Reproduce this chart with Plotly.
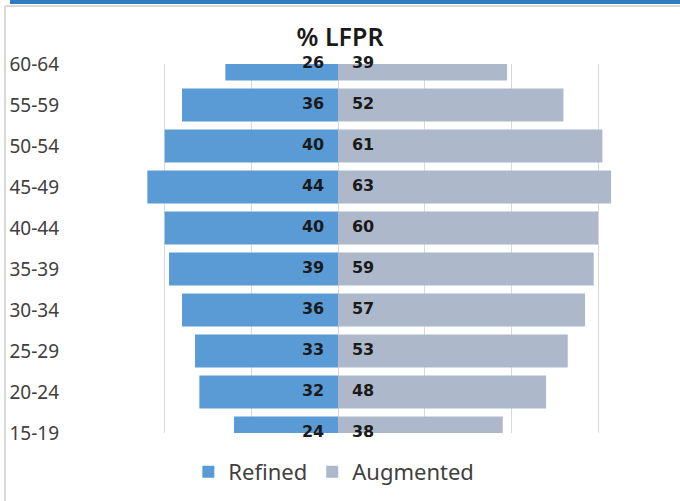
import plotly.graph_objects as go

# data (bottom to top)
age_groups = ['15-19', '20-24', '25-29', '30-34', '35-39',
              '40-44', '45-49', '50-54', '55-59', '60-64']
refined = [24, 32, 33, 36, 39, 40, 44, 40, 36, 26]
augmented = [38, 48, 53, 57, 59, 60, 63, 61, 52, 39]
grid_ticks = [-60, -40, -20, 0, 20, 40, 60]

BLUE = '#5B9BD5'
GREY = '#ADB9CA'
LABEL_GAP = 3.2  # distance of value labels from the centre line, in axis units

fig = go.Figure()

fig.add_trace(go.Bar(y=age_groups, x=[-v for v in refined], orientation='h',
                     name='Refined', marker=dict(color=BLUE, line_width=0),
                     hoverinfo='skip'))
fig.add_trace(go.Bar(y=age_groups, x=augmented, orientation='h',
                     name='Augmented', marker=dict(color=GREY, line_width=0),
                     hoverinfo='skip'))

# value labels either side of the centre
label_font = dict(family='DejaVu Sans', size=16, color='#1a1a1a', weight='bold')
fig.add_trace(go.Scatter(y=age_groups, x=[-LABEL_GAP] * len(refined), mode='text',
                         text=[str(v) for v in refined], textposition='middle left',
                         textfont=label_font, showlegend=False, cliponaxis=False,
                         hoverinfo='skip'))
fig.add_trace(go.Scatter(y=age_groups, x=[LABEL_GAP] * len(augmented), mode='text',
                         text=[str(v) for v in augmented], textposition='middle right',
                         textfont=label_font, showlegend=False, cliponaxis=False,
                         hoverinfo='skip'))

# card frame around the chart (plot area spans px 78..680 x 64..433)
def px_x(p):
    return (p - 78) / 602


def px_y(p):
    return (433 - p) / 369


shapes = [
    dict(type='rect', xref='paper', yref='paper', x0=px_x(10), x1=px_x(680),
         y0=px_y(4), y1=px_y(-2), fillcolor='#2F7DBF', line_width=0, layer='above'),
    dict(type='line', xref='paper', yref='paper', x0=px_x(5), x1=px_x(680),
         y0=px_y(6), y1=px_y(6), line=dict(color='#D9D9D9', width=2)),
    dict(type='line', xref='paper', yref='paper', x0=px_x(5), x1=px_x(5),
         y0=px_y(6), y1=px_y(505), line=dict(color='#D9D9D9', width=2)),
]

fig.update_layout(
    width=680, height=501,
    margin=dict(l=78, r=0, t=64, b=68),
    paper_bgcolor='white', plot_bgcolor='white',
    barmode='relative', bargap=0.2,
    font=dict(family='Noto Sans', color='#404040'),
    title=dict(text='% LFPR', x=0.5, xanchor='center', y=1 - 37 / 501,
               yanchor='middle',
               font=dict(family='Noto Sans', size=25, color='#1a1a1a', weight=600)),
    xaxis=dict(range=[-60, 78.9], tickvals=grid_ticks, showticklabels=False,
               showgrid=True, gridcolor='#D9D9D9', gridwidth=1, zeroline=False,
               fixedrange=True),
    yaxis=dict(type='category', categoryorder='array', categoryarray=age_groups,
               range=[0, 9], showgrid=False, zeroline=False, ticks='',
               ticklabelstandoff=18,
               tickfont=dict(family='Noto Sans', size=19, color='#404040')),
    legend=dict(orientation='h', x=0.425, xanchor='center', y=px_y(472),
                yanchor='middle', font=dict(family='Noto Sans', size=22, color='#404040'),
                itemwidth=30, traceorder='normal'),
    shapes=shapes,
    showlegend=True,
)

# drop the default page margin so the figure sits at the window's corner
fig.write_html('out.html', config={'displayModeBar': False},
               post_script="document.body.style.margin='0';")
